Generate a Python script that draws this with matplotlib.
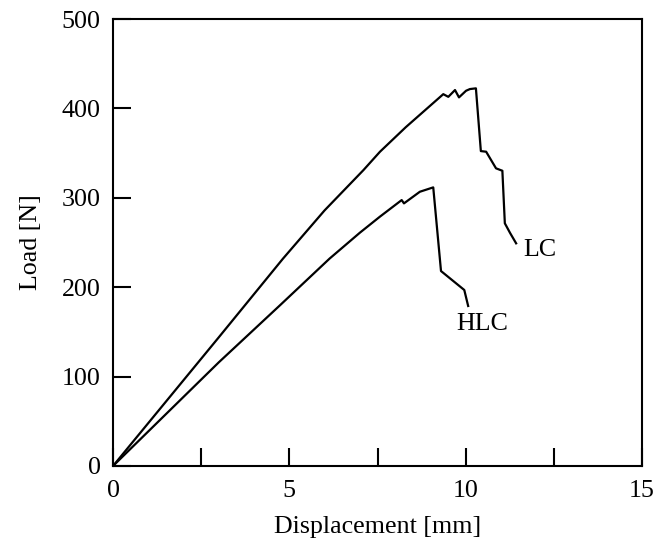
import matplotlib
matplotlib.use("Agg")
import matplotlib.pyplot as plt

# load-displacement curves
lc_disp = [0, 3.0, 4.82, 6.0, 7.1, 7.57, 8.3, 9.365, 9.507, 9.697, 9.81, 10.01, 10.12, 10.29,
           10.43, 10.58, 10.86, 11.04, 11.11, 11.26, 11.43]
lc_load = [0, 144, 232, 286, 331, 351.6, 379, 416, 413, 420.6, 412.4, 419.8, 421.7, 422.5,
           352.3, 351.6, 333, 330.3, 271.5, 260.6, 249.1]

hlc_disp = [0, 3.0, 4.74, 6.14, 7.0, 7.57, 8.185, 8.25, 8.70, 9.08, 9.30, 9.96, 10.07]
hlc_load = [0, 116, 180, 232, 261, 279, 297.5, 293.8, 306.8, 311.7, 218.1, 196.9, 179]

x_ticks = [0, 5, 10, 15]
x_minor = [2.5, 7.5, 12.5]
y_ticks = [0, 100, 200, 300, 400, 500]

plt.rcParams["font.family"] = ["Liberation Serif", "DejaVu Serif"]
plt.rcParams["font.size"] = 18.7

fig = plt.figure(figsize=(6.66, 5.45), dpi=100)
ax = fig.add_axes([0.1697, 0.145, 0.7943, 0.820])

ax.plot(lc_disp, lc_load, color="black", lw=1.6)
ax.plot(hlc_disp, hlc_load, color="black", lw=1.6)

ax.text(11.62, 242, "LC", ha="left", va="center")
ax.text(9.72, 159, "HLC", ha="left", va="center")

ax.set_xlim(0, 15)
ax.set_ylim(0, 500)
ax.set_xticks(x_ticks)
ax.set_xticks(x_minor, minor=True)
ax.set_yticks(y_ticks)
ax.tick_params(which="both", direction="in", length=13, width=1.5,
               top=False, right=False)
ax.tick_params(axis="y", pad=9)
ax.tick_params(axis="x", pad=10)

for sp in ax.spines.values():
    sp.set_linewidth(1.5)

ax.set_xlabel("Displacement [mm]", labelpad=10)
ax.set_ylabel("Load [N]", labelpad=14)

fig.savefig("out.png", dpi=100)
